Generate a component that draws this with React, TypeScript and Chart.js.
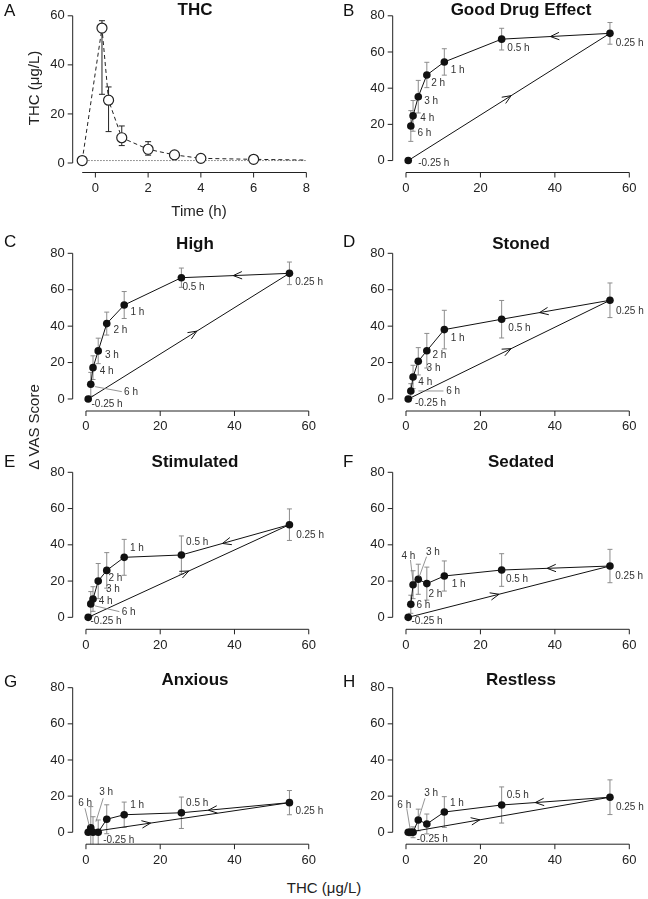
import React, { useEffect, useRef } from 'react';
import { Chart, registerables } from 'chart.js';

Chart.register(...registerables);

const FONT = "'Liberation Sans', Arial, Helvetica, sans-serif";

// ---------- Panel A: THC concentration over time ----------
const timeHours = [-0.5, 0.25, 0.5, 1, 2, 3, 4, 6, 8];
const thcMean = [1.0, 55, 25.6, 10.3, 5.6, 3.3, 1.9, 1.5, 1.2];
const thcUpper: (number | null)[] = [null, 58, 31, 15.1, 8.7, 4.6, 2.7, null, null];
const thcLower: (number | null)[] = [null, 28, 12.8, 7.1, 3.2, 2.2, 1.3, null, null];
const thcLoq = 1.0;
const timeTicks = [0, 2, 4, 6, 8];
const thcTicks = [0, 20, 40, 60];

// ---------- Panels B-H: VAS score vs THC concentration ----------
const timeLabels = ['-0.25 h', '0.25 h', '0.5 h', '1 h', '2 h', '3 h', '4 h', '6 h'];
const thcConc = [0.6, 54.8, 25.7, 10.3, 5.6, 3.3, 1.9, 1.3];
const concTicks = [0, 20, 40, 60];
const vasTicks = [0, 20, 40, 60, 80];

const goodDrugEffect = [0, 70.3, 67.1, 54.5, 47.3, 35.3, 24.7, 19.1];
const goodDrugEffectSd = [0, 6, 6, 7.3, 7, 9, 8.5, 8.5];
const high = [0, 69.0, 66.6, 51.6, 41.4, 26.4, 17.2, 8.1];
const highSd = [0, 6.2, 5.3, 7.4, 6.3, 7, 6.5, 6.5];
const stoned = [0, 54.2, 43.8, 38.1, 26.5, 20.7, 12.1, 4.4];
const stonedSd = [0, 9.5, 10.3, 10.6, 9.5, 7.5, 6.4, 4];
const stimulated = [0, 51.1, 34.4, 33.1, 25.9, 20.0, 10.1, 7.4];
const stimulatedSd = [0, 8.7, 10.5, 9.9, 9.8, 9.7, 6.8, 6.8];
const sedated = [0, 28.3, 26.1, 22.8, 18.6, 21.0, 18.0, 7.2];
const sedatedSd = [0, 9.2, 9, 8.3, 9.1, 8.3, 7.7, 5];
const anxious = [0, 16.4, 10.8, 9.7, 7.2, 0, 0, 2.5];
const anxiousSd = [0, 6.7, 8.7, 7, 8, 6.8, 8.6, 11.7];
const restless = [0, 19.4, 15.1, 11.2, 4.6, 6.8, 0, 0];
const restlessSd = [0, 9.6, 10, 8.5, 5.5, 6, 3, 2];

// ---------- annotation placement (pixel offsets from each point) ----------
type Off = [number, number] | null;
const labelsB: Off[] = [[10, 2.7], [5.7, 10], [5.7, 9.3], [6.3, 8], [4.3, 8.3], [6, 5], [7.3, 2.3], [6.7, 7.3]];
const labelsC: Off[] = [[3.3, 5], [5.7, 9.3], [1, 9.7], [6.3, 7.3], [6.7, 6.3], [6.7, 4.7], [6.7, 4], [33.3, 8]];
const labelsD: Off[] = [[6.7, 4.3], [6, 10.7], [6.7, 9], [6.3, 8.7], [5.7, 4.3], [8.3, 7], [5.3, 5.7], [35.3, 0]];
const labelsE: Off[] = [[2.3, 4.3], [6.7, 11], [4.7, -12.3], [5.7, -9], [1.7, 8], [7.7, 8], [5.7, 2.7], [31, 8.3]];
const labelsF: Off[] = [[3.3, 4.3], [5.3, 10], [4.3, 9.3], [7.3, 8], [1.7, 10.3], [7.7, -26.6], [-11.6, -28], [5.7, 0.7]];
const labelsG: Off[] = [[15, 7.7], [6, 9], [4.7, -9.7], [6, -9.7], null, [1, -39.6], null, [-12.5, -24.5]];
const labelsH: Off[] = [[8.5, 7], [6, 10], [5, -10], [5.7, -8.7], null, [6, -26.7], null, [-13.5, -27.3]];

const leadersC = [[7, 4.3, 2.4, 31, 7.4]];
const leadersD = [[7, 7.6, 0, 32.6, 0]];
const leadersE = [[7, 4.3, 2, 28.6, 7.7]];
const leadersF = [[5, 8.3, -22.6, 1, -2.6], [6, -2.6, -24.7, 0, -3]];
const leadersG = [[5, 5, -34, -2.3, -10.6], [7, -5.8, -19.5, -1.5, -2]];
const leadersH = [[5, 6.7, -21.7, 1, -3.3], [7, -4.1, -24, -0.8, -4]];

// ---------- layout ----------
const Y_AXIS_W = 40;
const X_AXIS_H = 28;
const COLS = [
  { canvasLeft: 0, canvasWidth: 326, plotLeft: 72.7, plotRight: 322.6, titleX: 195, letterX: 4 },
  { canvasLeft: 320, canvasWidth: 328, plotLeft: 392.7, plotRight: 642.6, titleX: 521, letterX: 343 },
];
const ROWS = [
  { canvasTop: 0, canvasHeight: 222, plotTop: 15.7, plotBottom: 172.5, titleY: 10.5, letterY: 11.5 },
  { canvasTop: 222, canvasHeight: 220, plotTop: 253.3, plotBottom: 411, titleY: 244.3, letterY: 242 },
  { canvasTop: 442, canvasHeight: 218, plotTop: 472.3, plotBottom: 629.3, titleY: 462.4, letterY: 462.4 },
  { canvasTop: 660, canvasHeight: 216, plotTop: 687.7, plotBottom: 844.2, titleY: 680.5, letterY: 682.3 },
];

type Spec = {
  letter: string;
  title: string;
  col: number;
  row: number;
  kind: 'thc' | 'vas';
  values?: number[];
  sd?: number[];
  labels?: Off[];
  leaders?: number[][];
  arrowFrac?: [number, number];
};

const PANELS: Spec[] = [
  { letter: 'A', title: 'THC', col: 0, row: 0, kind: 'thc' },
  { letter: 'B', title: 'Good Drug Effect', col: 1, row: 0, kind: 'vas', values: goodDrugEffect, sd: goodDrugEffectSd, labels: labelsB, leaders: [], arrowFrac: [0.51, 0.55] },
  { letter: 'C', title: 'High', col: 0, row: 1, kind: 'vas', values: high, sd: highSd, labels: labelsC, leaders: leadersC, arrowFrac: [0.54, 0.52] },
  { letter: 'D', title: 'Stoned', col: 1, row: 1, kind: 'vas', values: stoned, sd: stonedSd, labels: labelsD, leaders: leadersD, arrowFrac: [0.51, 0.65] },
  { letter: 'E', title: 'Stimulated', col: 0, row: 2, kind: 'vas', values: stimulated, sd: stimulatedSd, labels: labelsE, leaders: leadersE, arrowFrac: [0.5, 0.62] },
  { letter: 'F', title: 'Sedated', col: 1, row: 2, kind: 'vas', values: sedated, sd: sedatedSd, labels: labelsF, leaders: leadersF, arrowFrac: [0.45, 0.58] },
  { letter: 'G', title: 'Anxious', col: 0, row: 3, kind: 'vas', values: anxious, sd: anxiousSd, labels: labelsG, leaders: leadersG, arrowFrac: [0.31, 0.75] },
  { letter: 'H', title: 'Restless', col: 1, row: 3, kind: 'vas', values: restless, sd: restlessSd, labels: labelsH, leaders: leadersH, arrowFrac: [0.355, 0.69] },
];

function drawArrowHead(ctx: CanvasRenderingContext2D, ax: number, ay: number, bx: number, by: number, f: number) {
  const tx = ax + (bx - ax) * f;
  const ty = ay + (by - ay) * f;
  const len = Math.hypot(bx - ax, by - ay);
  const ux = (bx - ax) / len;
  const uy = (by - ay) / len;
  const L = 9.5;
  const th = 0.4;
  ctx.beginPath();
  for (const s of [1, -1]) {
    const c = Math.cos(th);
    const sn = Math.sin(th) * s;
    const wx = -(ux * c - uy * sn);
    const wy = -(ux * sn + uy * c);
    ctx.moveTo(tx + wx * L, ty + wy * L);
    ctx.lineTo(tx, ty);
  }
  ctx.stroke();
}

function makeDecor(spec: Spec) {
  const col = COLS[spec.col];
  const row = ROWS[spec.row];
  const isThc = spec.kind === 'thc';
  return {
    id: 'decor' + spec.letter,
    beforeDatasetsDraw(chart: any) {
      const { ctx, chartArea } = chart;
      const xs = chart.scales.x;
      const ys = chart.scales.y;
      ctx.save();
      ctx.beginPath();
      ctx.rect(chartArea.left, chartArea.top, chartArea.right - chartArea.left, chartArea.bottom - chartArea.top);
      ctx.clip();
      ctx.lineWidth = 1;
      if (isThc) {
        ctx.strokeStyle = '#222';
        timeHours.forEach((t, i) => {
          const hi = thcUpper[i];
          const lo = thcLower[i];
          if (hi == null || lo == null) return;
          const px = xs.getPixelForValue(t);
          const py1 = ys.getPixelForValue(hi);
          const py2 = ys.getPixelForValue(lo);
          ctx.beginPath();
          ctx.moveTo(px, py1);
          ctx.lineTo(px, py2);
          ctx.moveTo(px - 3, py1);
          ctx.lineTo(px + 3, py1);
          ctx.moveTo(px - 3, py2);
          ctx.lineTo(px + 3, py2);
          ctx.stroke();
        });
      } else {
        ctx.strokeStyle = '#8c8c8c';
        const vals = spec.values!;
        const sd = spec.sd!;
        thcConc.forEach((c, i) => {
          if (!sd[i]) return;
          const px = xs.getPixelForValue(c);
          const py1 = ys.getPixelForValue(vals[i] + sd[i]);
          const py2 = ys.getPixelForValue(vals[i] - sd[i]);
          ctx.beginPath();
          ctx.moveTo(px, py1);
          ctx.lineTo(px, py2);
          ctx.moveTo(px - 2.5, py1);
          ctx.lineTo(px + 2.5, py1);
          ctx.moveTo(px - 2.5, py2);
          ctx.lineTo(px + 2.5, py2);
          ctx.stroke();
        });
      }
      ctx.restore();
    },
    afterDatasetsDraw(chart: any) {
      const { ctx, chartArea } = chart;
      const xs = chart.scales.x;
      const ys = chart.scales.y;
      ctx.save();
      // R-style axes
      ctx.strokeStyle = '#222';
      ctx.lineWidth = 1;
      const yT = isThc ? thcTicks : vasTicks;
      const xT = isThc ? timeTicks : concTicks;
      const ax = chartArea.left;
      ctx.beginPath();
      ctx.moveTo(ax, ys.getPixelForValue(yT[0]));
      ctx.lineTo(ax, ys.getPixelForValue(yT[yT.length - 1]));
      yT.forEach((v) => {
        const py = ys.getPixelForValue(v);
        ctx.moveTo(ax, py);
        ctx.lineTo(ax - 5, py);
      });
      const ay = chartArea.bottom;
      const xStart = isThc ? timeHours[0] : xT[0];
      ctx.moveTo(xs.getPixelForValue(xStart), ay);
      ctx.lineTo(xs.getPixelForValue(xT[xT.length - 1]), ay);
      xT.forEach((v) => {
        const px = xs.getPixelForValue(v);
        ctx.moveTo(px, ay);
        ctx.lineTo(px, ay + 5);
      });
      ctx.stroke();

      if (!isThc) {
        const vals = spec.values!;
        const P = thcConc.map((c, i) => [xs.getPixelForValue(c), ys.getPixelForValue(vals[i])]);
        // direction arrows
        ctx.strokeStyle = '#111';
        ctx.lineWidth = 1;
        drawArrowHead(ctx, P[0][0], P[0][1], P[1][0], P[1][1], spec.arrowFrac![0]);
        drawArrowHead(ctx, P[1][0], P[1][1], P[2][0], P[2][1], spec.arrowFrac![1]);
        // leader lines
        ctx.strokeStyle = '#7a7a7a';
        ctx.lineWidth = 0.8;
        (spec.leaders || []).forEach(([i, x1, y1, x2, y2]) => {
          ctx.beginPath();
          ctx.moveTo(P[i][0] + x1, P[i][1] + y1);
          ctx.lineTo(P[i][0] + x2, P[i][1] + y2);
          ctx.stroke();
        });
        // time labels
        ctx.fillStyle = '#333';
        ctx.font = `10px ${FONT}`;
        ctx.textAlign = 'left';
        ctx.textBaseline = 'middle';
        spec.labels!.forEach((o, i) => {
          if (!o) return;
          ctx.fillText(timeLabels[i], P[i][0] + o[0], P[i][1] + o[1]);
        });
      }

      // title & panel letter
      ctx.fillStyle = '#111';
      ctx.textBaseline = 'middle';
      ctx.textAlign = 'center';
      ctx.font = `bold 17px ${FONT}`;
      ctx.fillText(spec.title, col.titleX - col.canvasLeft, row.titleY - row.canvasTop);
      ctx.textAlign = 'left';
      ctx.font = `17px ${FONT}`;
      ctx.fillText(spec.letter, col.letterX - col.canvasLeft, row.letterY - row.canvasTop);
      ctx.restore();
    },
  };
}

function buildConfig(spec: Spec): any {
  const col = COLS[spec.col];
  const row = ROWS[spec.row];
  const isThc = spec.kind === 'thc';
  const padding = {
    left: col.plotLeft - col.canvasLeft - Y_AXIS_W,
    right: col.canvasLeft + col.canvasWidth - col.plotRight,
    top: row.plotTop - row.canvasTop,
    bottom: row.canvasTop + row.canvasHeight - row.plotBottom - X_AXIS_H,
  };
  const tickFont = { family: FONT, size: 13 };
  const xTicks = isThc ? timeTicks : concTicks;
  const yTicks = isThc ? thcTicks : vasTicks;

  let datasets: any[];
  if (isThc) {
    datasets = [
      {
        data: timeHours.map((t, i) => ({ x: t, y: thcMean[i] })),
        showLine: true,
        borderColor: '#222',
        borderWidth: 1,
        borderDash: [4, 3],
        pointRadius: timeHours.map((_, i) => (i === timeHours.length - 1 ? 0 : 5)),
        pointBackgroundColor: '#fff',
        pointBorderColor: '#222',
        pointBorderWidth: 1.2,
      },
      {
        data: [
          { x: timeHours[0], y: thcLoq },
          { x: timeHours[timeHours.length - 1], y: thcLoq },
        ],
        showLine: true,
        borderColor: '#777',
        borderWidth: 1,
        borderDash: [1.5, 1.5],
        pointRadius: 0,
      },
    ];
  } else {
    datasets = [
      {
        data: thcConc.map((c, i) => ({ x: c, y: spec.values![i] })),
        showLine: true,
        borderColor: '#111',
        borderWidth: 1,
        pointRadius: 3.8,
        pointBackgroundColor: '#111',
        pointBorderColor: '#111',
        pointBorderWidth: 0,
      },
    ];
  }

  return {
    type: 'scatter',
    data: { datasets },
    options: {
      animation: false,
      responsive: false,
      devicePixelRatio: 1,
      events: [],
      layout: { padding },
      plugins: { legend: { display: false }, tooltip: { enabled: false } },
      scales: {
        x: {
          type: 'linear',
          min: isThc ? -0.86 : -3.57,
          max: isThc ? 8.51 : 63.57,
          grid: { display: false, drawTicks: false },
          border: { display: false },
          ticks: { font: tickFont, color: '#222', padding: 8, maxRotation: 0 },
          afterBuildTicks: (axis: any) => {
            axis.ticks = xTicks.map((v) => ({ value: v }));
          },
          afterFit: (axis: any) => {
            axis.height = X_AXIS_H;
          },
        },
        y: {
          type: 'linear',
          min: isThc ? -3.87 : -6.6,
          max: isThc ? 60 : 80,
          grid: { display: false, drawTicks: false },
          border: { display: false },
          ticks: { font: tickFont, color: '#222', padding: 8 },
          afterBuildTicks: (axis: any) => {
            axis.ticks = yTicks.map((v) => ({ value: v }));
          },
          afterFit: (axis: any) => {
            axis.width = Y_AXIS_W;
          },
        },
      },
    },
    plugins: [makeDecor(spec)],
  };
}

function Panel({ spec }: { spec: Spec }) {
  const ref = useRef<HTMLCanvasElement>(null);
  const col = COLS[spec.col];
  const row = ROWS[spec.row];
  useEffect(() => {
    const chart = new Chart(ref.current as HTMLCanvasElement, buildConfig(spec));
    return () => chart.destroy();
  }, [spec]);
  return (
    <canvas
      ref={ref}
      width={col.canvasWidth}
      height={row.canvasHeight}
      style={{ position: 'absolute', left: col.canvasLeft, top: row.canvasTop, width: col.canvasWidth, height: row.canvasHeight }}
    />
  );
}

const textBase: React.CSSProperties = {
  position: 'absolute',
  fontFamily: FONT,
  fontSize: 15,
  color: '#222',
  whiteSpace: 'nowrap',
  lineHeight: 1,
};

export default function App() {
  return (
    <div style={{ position: 'absolute', left: 0, top: 0, width: 648, height: 899, background: '#fff', overflow: 'hidden' }}>
      {PANELS.map((p) => (
        <Panel key={p.letter} spec={p} />
      ))}
      <div style={{ ...textBase, left: 33, top: 88, transform: 'translate(-50%, -50%) rotate(-90deg)' }}>THC (μg/L)</div>
      <div style={{ ...textBase, left: 199, top: 210, transform: 'translate(-50%, -50%)' }}>Time (h)</div>
      <div style={{ ...textBase, left: 33, top: 427, transform: 'translate(-50%, -50%) rotate(-90deg)' }}>Δ VAS Score</div>
      <div style={{ ...textBase, left: 324, top: 887, transform: 'translate(-50%, -50%)' }}>THC (μg/L)</div>
    </div>
  );
}
